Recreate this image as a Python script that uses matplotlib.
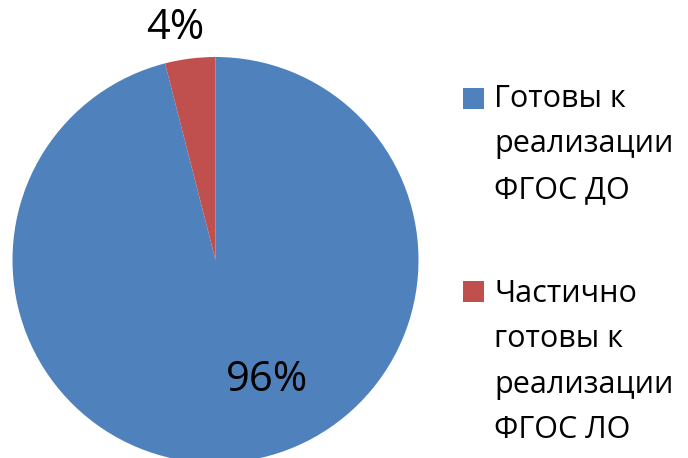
import matplotlib
matplotlib.use("Agg")
import matplotlib.pyplot as plt
from matplotlib.patches import Rectangle
import numpy as np

categories = ["Готовы к\nреализации\nФГОС ДО", "Частично\nготовы к\nреализации\nФГОС ЛО"]
values = [96, 4]
pct_labels = ["96%", "4%"]
colors = ["#4F81BD", "#C0504D"]

W, H = 688, 458
fig = plt.figure(figsize=(W / 100, H / 100), dpi=100)
fam = ["Open Sans", "DejaVu Sans"]

# pie geometry in pixels
cx, cy, R = 215.5, 260.0, 203.0
ax = fig.add_axes([0, 0, 1, 1])
wedges, _ = ax.pie(values, colors=colors, startangle=90, counterclock=False,
                   wedgeprops=dict(linewidth=0))
ax.set_xlim(-cx / R, (W - cx) / R)
ax.set_ylim(-(H - cy) / R, cy / R)
ax.set_aspect("equal")
ax.axis("off")

# percentage labels (radius fraction, angle in degrees)
placements = [(0.643, -66.8), (1.16, 99.9)]
for lab, (r, ang) in zip(pct_labels, placements):
    a = np.deg2rad(ang)
    ax.text(r * np.cos(a), r * np.sin(a), lab, ha="center", va="center",
            fontsize=30, family=fam, color="black")

# legend drawn manually
tops = [88, 281]
text_tops = [84, 279]
for cat, col, top, tt in zip(categories, colors, tops, text_tops):
    fig.patches.append(Rectangle((463 / W, 1 - (top + 21) / H), 21 / W, 21 / H,
                                 transform=fig.transFigure, facecolor=col,
                                 edgecolor="none"))
    fig.text(494 / W, 1 - tt / H, cat, ha="left", va="top",
             fontsize=22, family=fam, linespacing=1.67, color="black")

fig.savefig("out.png", dpi=100)
